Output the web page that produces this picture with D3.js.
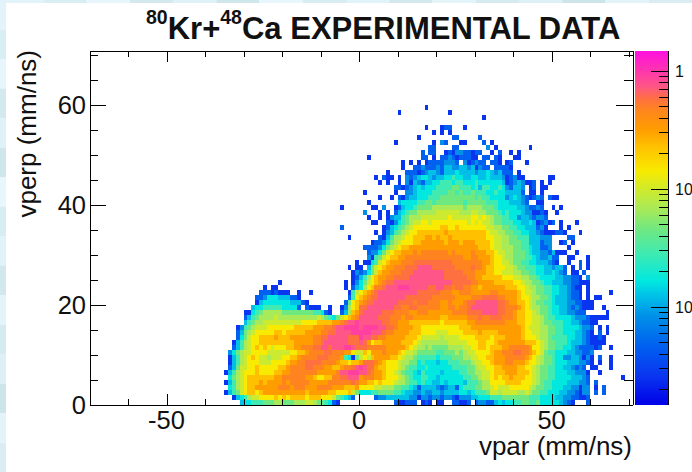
<!DOCTYPE html>
<html>
<head>
<meta charset="utf-8">
<script src="https://cdn.jsdelivr.net/npm/d3@7"></script>
<style>
html, body { margin: 0; padding: 0; background: #fff; overflow: hidden; }
text { font-family: "Liberation Sans", Arial, sans-serif; fill: #111; }
.axis path, .axis line { stroke: #000; stroke-width: 1; shape-rendering: crispEdges; }
</style>
</head>
<body>
<div id="chart-area"></div>
<script>
// vpar vs vperp, one string per vperp bin (bottom row first), one char per 1 mm/ns vpar bin.
// chars are hex colour-level indexes into levelLogZ, "." means empty bin.
var leftStart = -36, midStart = 0, rightStart = 34;

// vpar bins -36 .. -1
var rowsLeft = [
".....34455566677666777887665410.....",
"...03457889999a9a9aaaa9aaa999865431.",
".035689aa9abbbbbbbbbbbabbbbbaa999a86",
"..45789aabbbbbbcccbcccbbbccccbbbaaab",
".035789aaab" + "abbbbcbccc" + "ccbbbbbccc" + "cccdc",
"..46789aaaaa" + "aabbcccccc" + "bba99aacc" + "ddeee",
".03578999a9999aabbcccccccbbbbbceefff",
"..1368899a99999aabccccddcccbbaabccde",
"..035789998889999abbccddddccccbaa9aa",
"..035789a988" + "788899aabc" + "cccdddcccb" + "5406",
"..2467889999" + "88888899aa" + "bccccddccc" + "bb98",
"...135789a9a9" + "8999aabbcc" + "cddeedeeef" + "fed",
"...0357899aaa" + "aaaaaabbbb" + "bccdeeeeee" + "ddd",
"....146899aaaa" + "baaabbbbbb" + "ccddeeeeed" + "dd",
"....1367899999" + "aa9aaaaabb" + "bbccddeeee" + "ff",
"....0256788899" + "99999aaaaa" + "bbbccdeeff" + "ff",
"......3567788888" + "888889999a" + "aaabbcdeef",
"......1356777787" + "7777777778" + "7654689abc",
"......0045677777" + "6666666655" + "410..137ab",
"........3445555544441.1000..0..0279a",
".........0" + "34444444333" + "10" + "........." + "169a",
"........." + "112444333110" + "............" + "159",
"..........11101000..0..0.........058",
"...........0.00.................0.13",
"...............0................0.02",
"..................................01",
"..................................02",
".................................0.0",
"...................................0",
"", "", "", "",
".................................0",
"",
"...............................1",
"", "", "",
"...............................0"
];

// vpar bins 0 .. 33
var rowsMid = [
".........100111.010.00..11001.1221",
"....122333333220" + "221221221" + "0" + "22233444",
"4445566665" + "5433223223" + "3233334434" + "5556",
"9999887776" + "6554313333" + "2123314555" + "6677",
"bbaa9a9998" + "7765545443" + "3434444355" + "5677",
"bcccbba999" + "8765445544" + "3444444556" + "6788",
"eedcbba998" + "7655435444" + "4344445566" + "7788",
"feddbaa999" + "8765544544" + "4444555566" + "7889",
"bdddcba999" + "8776645444" + "3445556667" + "8899",
"898abbbbaa" + "9877655555" + "4555666778" + "899a",
"8a9bbbcbbb" + "a988766666" + "5566676788" + "9999",
"ddcccccbbb" + "bba9877676" + "6667777889" + "9aa9",
"edb9aabbbb" + "baaa987777" + "7778888899" + "9aa9",
"feeddccbbb" + "bbaaa98888" + "8788889999" + "aaaa",
"fffeeedccb" + "bbbaaa9999" + "8889999aaa" + "abaa",
"effffeeddc" + "bbbbaa9999" + "999999aaab" + "bbbb",
"eeeeeeddcc" + "bbbaaaaaaa" + "a9aaaaaabb" + "cccc",
"eeeeedddcc" + "cbccbbbbbb" + "baabbbbbcc" + "cdcc",
"deeeeedddc" + "cccbbcccbb" + "bbbbccccdd" + "ddee",
"ddeeeeeeed" + "dccddccccc" + "cbbccbccde" + "eeee",
"bcddeeeeee" + "ddddcdddcc" + "cbbcbbbcdd" + "eeee",
"abcddeeeee" + "eedddddddc" + "cccccbbbbc" + "ccdd",
"9abcdeeeee" + "eeeeeddddd" + "dcccbbcccb" + "bbbb",
"479accdeee" + "fffeeeeedd" + "eeddcddccb" + "babb",
"4689abcdde" + "eeeeeeeeee" + "eeeedddddc" + "cbbb",
"3579abbccd" + "dddeeeeeee" + "eeddddddcc" + "bbaa",
"12468abbcc" + "cdddeeeeee" + "eedddddccc" + "bbba",
"0.3689abbc" + "ccdddeeeed" + "dddddccccd" + "ccba",
".004589abb" + "bcccdddddd" + "ddddcccccc" + "ccbb",
"..205689aa" + "bbcccccccc" + "cccccccbbc" + "cbbb",
"..1224689a" + "abbbcbcccc" + "cccbcbbbbc" + "bbba",
".111124678" + "9aabbbbbbb" + "bbbbbbbbbb" + "baaa",
"...0112467" + "8999aabbbb" + "bbabbbabbb" + "aaaa",
".....10357" + "7899aaabba" + "baabaaaaaa" + "aaa9",
"....0.0235" + "67899aaaaa" + "aabaaaaaaa" + "aaa9",
"......0134" + "5678999999" + "9aa99a9999" + "9998",
"...00..102" + "4567889989" + "9999999989" + "8988",
"..0..0.023" + "3567778888" + "8889888889" + "9898",
".2...0.0.1" + "3456677777" + "8888887778" + "8776",
"...00.2..0" + "1344566667" + "7777777677" + "7766",
"..0......." + "3444455665" + "6666666566" + "6665",
".....0..0." + "1023344455" + "5666666666" + "5655",
".0.......0" + "..22344445" + "5556656556" + "5554",
".........1" + "1012343444" + "5555665554" + "5355",
".....0.0.." + "0.20321334" + "4555455444" + "5444",
"....0.100." + "0.21234432" + "3344544334" + "4334",
".......0.." + "..11101233" + "2133343333" + "2334",
".........." + ".0..112111" + "2133223323" + "0211",
".........." + ".0.0.0.011" + "112221.201" + "211.",
"..0......." + "......11.0" + ".112101110" + "0.11",
".........." + "......1.11" + "..01022110" + "11..",
".........." + "........11" + "....11...." + "...2",
".........0" + ".........0" + ".21...00.." + "..1.",
".........." + ".....0...." + "....11...." + ".1..",
".........." + ".........0" + ".0.0......" + "....",
".........." + ".......0.." + ".011...0.." + "....",
"",
".........." + ".........." + ".........." + "..0.",
".........." + "0........." + "...0......" + "....",
".........." + ".......0.." + ".........." + "...."
];

// vpar bins 34 .. 68
var rowsRight = [
"1343445566" + "5564444432" + "10...1",
"5556666666" + "5554444332" + "211001",
"8878888778" + "7665544433" + "221022.1.1",
"8988899999" + "8766554443" + "322022.0.1",
"9999aaaa99" + "9876554444" + "333221.1",
"9a9aabaaa9" + "9876655444" + "433321" + "........0",
"9aaabbbaaa" + "9876655444" + "332220..0",
"9aabbbbaa9" + "9876655443" + "32121.00...0",
"abbbccbbba" + "9987665444" + "333221" + "0.0..0",
"abbbcccccb" + "a987665442" + "233202" + "0.1..0",
"abbcccddcc" + "ba98655444" + "3322112",
"aaabbccccc" + "b998766554" + "432111" + "101..0",
"9abbbbbbba" + "aa98766555" + "4333210000",
"9aaabbbba9" + "9987765555" + "4433210010",
"aabbbbbba9" + "9887766554" + "4433210.1.0",
"bbbbbbbba9" + "8887766554" + "4443221.0.0",
"ccccbbbaa9" + "9887665554" + "43321100",
"dddcccbaa9" + "9887655444" + "43222100000",
"eeddccbaa9" + "9876654433" + "22111.....0",
"eeddcccba9" + "8776654433" + "2121000..0",
"eeddcbbaa9" + "8766554333" + "2211000",
"ddccbbba99" + "8776654333" + "2110.0.00",
"ccbbbbba98" + "8766554433" + "2110.0.....0",
"bbbbaaa998" + "7766554433" + "2100.0",
"baaaaa9987" + "7665443332" + "211000",
"aaa9998877" + "6654444332" + "2110.2",
"a998887766" + "5544334321" + ".00.1",
"a999887665" + "5544332331" + ".0.1.0",
"a998876655" + "44333210..0..1.0",
"a998776665" + "54322311..00...0",
"a988776665" + "43322130" + "00..0",
"9887776655" + "433112....0",
"9887766655" + "333122..01.0",
"9887766555" + "333222....11",
"8877665544" + "3321000110" + "...0",
"8776655443" + "33120...0.0",
"7665554433" + "4301201.0...0",
"7665544233" + "21221",
"6654544432" + "20010..0",
"6544444332" + "1121..0.0",
"5544433321" + "..00",
"4444234321" + "0121.100",
"454433331.00.0",
"445421332.01.00",
"4443012320" + "01.0.0",
"333201200......00",
"323111.0",
".11110",
"110.01...0",
".10...00",
"0.1..0.0",
".0........0",
"0"
];

// log10(z) of each colour level 0..f
var levelLogZ = [-2.585, -2.33, -2.076, -1.907, -1.78, -1.542, -1.339, -1.169,
                 -1.017, -0.847, -0.636, -0.492, -0.322, -0.237, -0.127, -0.042];

// palette
var paletteLogZ = [-2.83, -2.585, -2.33, -2.076, -1.907, -1.78, -1.542, -1.339, -1.169,
                   -1.017, -0.847, -0.636, -0.492, -0.322, -0.237, -0.127, -0.042, 0.17];
var paletteColors = ["#0000e8", "#0a35f0", "#0060f0", "#0090e8", "#00c0e8", "#00e8e0", "#40eab0",
                     "#70e880", "#a8ea58", "#ccea30", "#f8ea00", "#ffc000", "#ff9c00", "#ff8420",
                     "#ff7040", "#ff5588", "#ff40a0", "#ff10e0"];

var xTicksMajor = [-50, 0, 50];
var xTicksMinor = [-60, -40, -30, -20, -10, 10, 20, 30, 40, 60, 70];
var yTicksMajor = [20, 40, 60];
var yTicksMinor = [5, 10, 15, 25, 30, 35, 45, 50, 55, 65, 70];
var zDecades = [0.01, 0.1, 1];
var zMinorFactors = [2, 3, 4, 5, 6, 7, 8, 9];

// the pale blue page texture showing round the white plot pad
var stripColors = ["#e2f4f9", "#d9eef3", "#e6f6fa", "#d3e9ee", "#dff2f7", "#cfe6ea", "#e8f7fb", "#d8edf2",
                   "#e0f3f8", "#d2e8ec", "#e4f5f9", "#d6ebf0", "#ddf0f5", "#cde4e8", "#e3f4f8", "#d9edf2"];

var svg = d3.select("#chart-area")
    .append("svg")
        .attr("width", 692)
        .attr("height", 472)
        .style("display", "block");

// X Scale
var x = d3.scaleLinear()
    .domain([-70, 71])
    .range([89.5, 632.5]);

// Y Scale
var y = d3.scaleLinear()
    .domain([0, 71])
    .range([404.5, 50.5]);

// Colour scale
var color = d3.scaleLinear()
    .domain(paletteLogZ)
    .range(paletteColors);

// Z scale for the colour bar
var z = d3.scaleLog()
    .domain([Math.pow(10, -2.83), Math.pow(10, 0.17)])
    .range([404.5, 50.5]);

// Background strips
var stripY = d3.scaleBand().domain(d3.range(stripColors.length)).range([0, 472]);
var stripX = d3.scaleBand().domain(d3.range(stripColors.length)).range([0, 692]);

svg.selectAll("rect.stripLeft")
    .data(stripColors)
    .enter().append("rect")
        .attr("class", "stripLeft")
        .attr("x", 0)
        .attr("y", function(d, i){ return stripY(i); })
        .attr("width", 6)
        .attr("height", stripY.bandwidth())
        .attr("fill", function(d){ return d; });

svg.selectAll("rect.stripTop")
    .data(stripColors)
    .enter().append("rect")
        .attr("class", "stripTop")
        .attr("x", function(d, i){ return stripX(i); })
        .attr("y", 0)
        .attr("width", stripX.bandwidth())
        .attr("height", 3)
        .attr("fill", function(d){ return d; });

// Turn the rows into cells
var cells = [];
function addRows(rows, start) {
    rows.forEach(function(row, r) {
        row.split("").forEach(function(ch, i) {
            if (ch !== ".") {
                cells.push({ vpar: start + i, vperp: r, level: parseInt(ch, 16) });
            }
        });
    });
}
addRows(rowsLeft, leftStart);
addRows(rowsMid, midStart);
addRows(rowsRight, rightStart);

svg.append("g").selectAll("rect")
    .data(cells)
    .enter().append("rect")
        .attr("x", function(d){ return x(d.vpar); })
        .attr("y", function(d){ return y(d.vperp + 1); })
        .attr("width", x(1) - x(0))
        .attr("height", y(0) - y(1))
        .attr("fill", function(d){ return color(levelLogZ[d.level]); })
        .attr("shape-rendering", "crispEdges");

// Frame and ticks
function xAxisPair(axis, top) {
    var g = svg.append("g").attr("class", "axis")
        .attr("transform", "translate(0," + (top ? y(71) : y(0)) + ")");
    g.call(axis.tickValues(xTicksMajor).tickSize(top ? 11 : -11).tickSizeOuter(0).tickFormat(""));
    svg.append("g").attr("class", "axis")
        .attr("transform", "translate(0," + (top ? y(71) : y(0)) + ")")
        .call(axis.tickValues(xTicksMinor).tickSize(top ? 6 : -6).tickSizeOuter(0).tickFormat(""));
}
xAxisPair(d3.axisBottom(x), false);
xAxisPair(d3.axisBottom(x), true);

function yAxisPair(axis, right) {
    var pos = right ? x(71) : x(-70);
    svg.append("g").attr("class", "axis")
        .attr("transform", "translate(" + pos + ",0)")
        .call(axis.tickValues(yTicksMajor).tickSize(right ? 16.5 : -16.5).tickSizeOuter(0).tickFormat(""));
    svg.append("g").attr("class", "axis")
        .attr("transform", "translate(" + pos + ",0)")
        .call(axis.tickValues(yTicksMinor).tickSize(right ? 8.5 : -8.5).tickSizeOuter(0).tickFormat(""));
}
yAxisPair(d3.axisLeft(y), false);
yAxisPair(d3.axisLeft(y), true);

// Tick labels
svg.selectAll("text.xLabel")
    .data(xTicksMajor)
    .enter().append("text")
        .attr("class", "xLabel")
        .attr("x", function(d){ return x(d); })
        .attr("y", 429)
        .attr("font-size", "25.5px")
        .attr("text-anchor", "middle")
        .text(function(d){ return d; });

svg.selectAll("text.yLabel")
    .data([0].concat(yTicksMajor))
    .enter().append("text")
        .attr("class", "yLabel")
        .attr("x", 86)
        .attr("y", function(d){ return y(d) + 9; })
        .attr("font-size", "25.5px")
        .attr("text-anchor", "end")
        .text(function(d){ return d; });

// X Label
svg.append("text")
    .attr("x", 632)
    .attr("y", 455)
    .attr("font-size", "26px")
    .attr("text-anchor", "end")
    .text("vpar (mm/ns)");

// Y Label
svg.append("text")
    .attr("transform", "translate(36,50) rotate(-90)")
    .attr("font-size", "26px")
    .attr("text-anchor", "end")
    .text("vperp (mm/ns)");

// Title
var title = svg.append("text")
    .attr("x", 146)
    .attr("y", 39)
    .attr("font-size", "31px")
    .attr("font-weight", "bold");
title.append("tspan").attr("font-size", "19.5px").attr("dy", -15).text("80");
title.append("tspan").attr("dy", 15).text("Kr+");
title.append("tspan").attr("font-size", "19.5px").attr("dy", -15).text("48");
title.append("tspan").attr("dy", 15).text("Ca EXPERIMENTAL DATA");

// Colour bar
var barSteps = d3.range(51, 405);
svg.append("g").selectAll("rect")
    .data(barSteps)
    .enter().append("rect")
        .attr("x", 635)
        .attr("y", function(d){ return d - 0.5; })
        .attr("width", 32.5)
        .attr("height", 1)
        .attr("fill", function(d){ return color(Math.log10(z.invert(d))); })
        .attr("shape-rendering", "crispEdges");

var zMinor = [];
[0.001, 0.01, 0.1, 1].forEach(function(dec) {
    zMinorFactors.forEach(function(f) {
        if (dec * f > z.domain()[0] && dec * f < z.domain()[1]) { zMinor.push(dec * f); }
    });
});

svg.append("g").attr("class", "axis")
    .attr("transform", "translate(667.5,0)")
    .call(d3.axisLeft(z).tickValues(zDecades).tickSize(16.5).tickSizeOuter(0).tickFormat(""));
svg.append("g").attr("class", "axis")
    .attr("transform", "translate(667.5,0)")
    .call(d3.axisLeft(z).tickValues(zMinor).tickSize(8.5).tickSizeOuter(0).tickFormat(""));

// Colour bar labels, the last characters run off the window as in the original
svg.append("text").attr("x", 675).attr("y", z(1) + 6).attr("font-size", "16px").text("1");
[[0.1, "-1"], [0.01, "-2"]].forEach(function(d) {
    var t = svg.append("text").attr("x", 675).attr("y", z(d[0]) + 6).attr("font-size", "16px");
    t.append("tspan").text("10");
    t.append("tspan").attr("font-size", "10px").attr("dy", -7).text(d[1]);
});
</script>
</body>
</html>
